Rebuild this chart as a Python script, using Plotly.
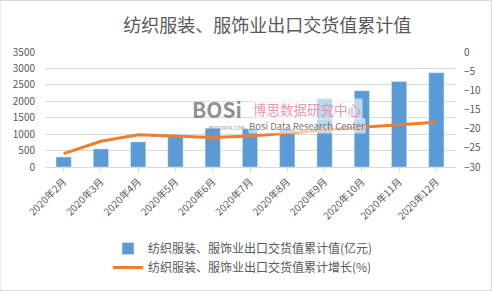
import plotly.graph_objects as go

categories = ["2020年2月", "2020年3月", "2020年4月", "2020年5月", "2020年6月", "2020年7月",
              "2020年8月", "2020年9月", "2020年10月", "2020年11月", "2020年12月"]
values = [305, 550, 765, 980, 1180, 1165, 1160, 2075, 2320, 2600, 2870]
growth = [-26.5, -23.3, -21.6, -21.9, -22.3, -21.9, -21.2, -20.3, -19.6, -19.0, -18.3]

name_bar = "纺织服装、服饰业出口交货值累计值(亿元)"
name_line = "纺织服装、服饰业出口交货值累计增长(%)"
title = "纺织服装、服饰业出口交货值累计值"

font_family = "Noto Sans CJK SC, Noto Sans, sans-serif"
gray = "#595959"

fig = go.Figure()
fig.add_trace(go.Bar(x=categories, y=values, name=name_bar, marker_color="#5b9bd5",
                     yaxis="y"))
fig.add_trace(go.Scatter(x=categories, y=growth, name=name_line, mode="lines",
                         line=dict(color="#ed7d31", width=3), yaxis="y2"))

W, L, T, H = 410, 45, 52, 115


def px(x):
    return (x - L) / W


def py(y):
    return (T + H - y) / H


fig.update_layout(
    width=492, height=291,
    margin=dict(l=45, r=37, t=52, b=124, autoexpand=False),
    paper_bgcolor="white", plot_bgcolor="white",
    font=dict(family=font_family, color=gray, size=10),
    title=dict(text=title, x=0.543, xanchor="center", y=0.91, yanchor="middle",
               font=dict(size=18, color=gray)),
    bargap=0.59,
    showlegend=True,
    legend=dict(orientation="v", x=px(108), xanchor="left", y=py(234), yanchor="top",
                font=dict(size=12, color=gray), tracegroupgap=0,
                bgcolor="rgba(0,0,0,0)"),
    xaxis=dict(tickangle=-45, showgrid=False, showline=True, linecolor="#d9d9d9",
               ticks="outside", ticklen=4, tickcolor="#d9d9d9", automargin=False,
               tickfont=dict(size=10, color=gray)),
    yaxis=dict(range=[0, 3500], dtick=500, showgrid=True, gridcolor="#d9d9d9",
               zeroline=False, showline=False, automargin=False, ticklabelstandoff=9,
               tickfont=dict(size=10, color=gray)),
    yaxis2=dict(range=[-30, 0], dtick=5, overlaying="y", side="right", showgrid=False,
                zeroline=False, showline=False, automargin=False, ticklabelstandoff=8,
                tickfont=dict(size=10, color=gray)),
    shapes=[dict(type="rect", xref="paper", yref="paper", x0=px(0), x1=px(491.5),
                 y0=py(290.5), y1=py(0.5), line=dict(color="#d9d9d9", width=1))],
)

# watermark
fig.add_annotation(text="<b>BOSi</b>", xref="paper", yref="paper", x=px(217),
                   y=py(109), showarrow=False, borderpad=0,
                   font=dict(size=21, color="rgba(125,125,125,0.85)"))
fig.add_annotation(text="BOSIDATA.COM", xref="paper", yref="paper", x=px(227),
                   y=py(127.5), showarrow=False, borderpad=0,
                   font=dict(size=5, color="rgba(125,125,125,0.85)"))
fig.add_annotation(text="博思数据研究中心", xref="paper", yref="paper", x=px(307),
                   y=py(108.5), showarrow=False, bgcolor="rgba(255,255,255,0.6)",
                   borderpad=0,
                   font=dict(size=13.5, color="rgba(232,120,155,0.8)"))
fig.add_annotation(text="Bosi Data Research Center", xref="paper", yref="paper", x=px(307),
                   y=py(125.5), showarrow=False, bgcolor="rgba(255,255,255,0.6)",
                   borderpad=0,
                   font=dict(size=9.5, color="rgba(90,90,90,0.85)"))

fig.write_html("out.html")
